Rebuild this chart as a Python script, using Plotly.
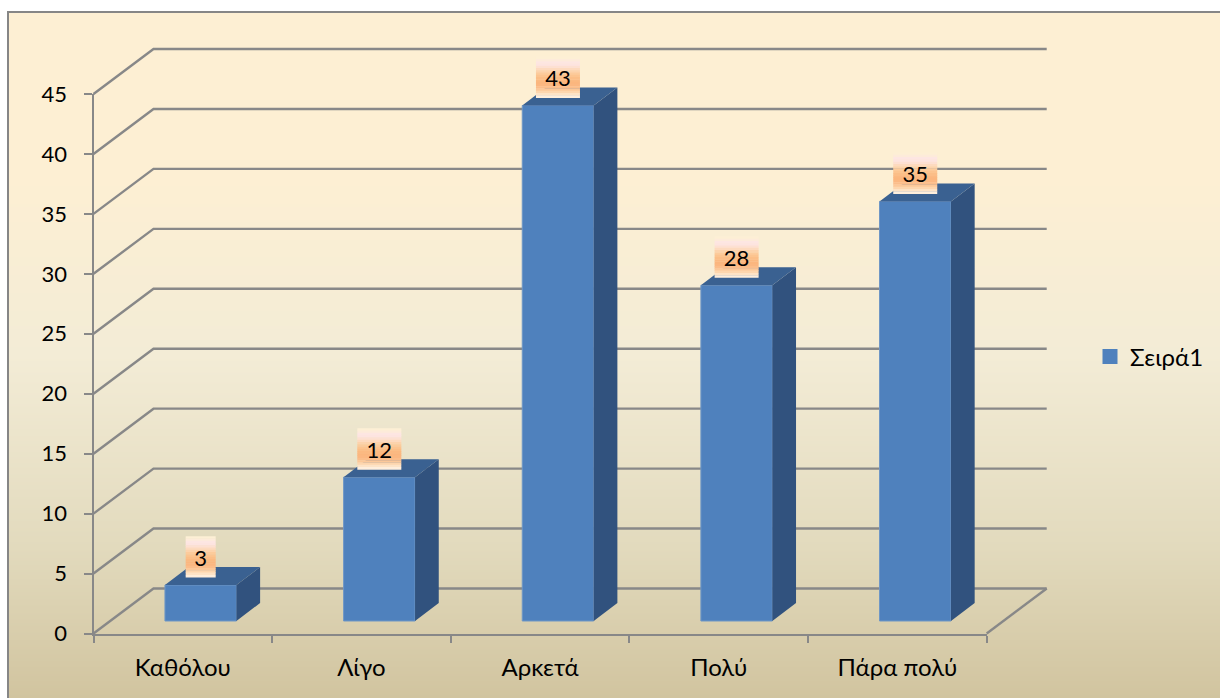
import plotly.graph_objects as go

categories = ["Καθόλου", "Λίγο", "Αρκετά", "Πολύ", "Πάρα πολύ"]
values = [3, 12, 43, 28, 35]
y_ticks = [0, 5, 10, 15, 20, 25, 30, 35, 40, 45]
series_name = "Σειρά1"

W, H = 1220, 698
FONT = "Lato, 'Noto Sans', sans-serif"
FS_NUM, FS_TXT = 22, 24
GRID = "#888888"
FRONT, SIDE, TOP = "#4F81BD", "#31527E", "#3A6191"

# pixel geometry of the pseudo-3D plot
X0, X1 = 93.5, 986.7
Y0, Y45 = 633.5, 94.0
px_x = (X1 - X0) / len(categories)     # pixels per category
px_y = (Y0 - Y45) / 45                 # pixels per value unit
wall_dx, wall_dy = 60 / px_x, 45 / px_y
bar_w, bar_shift, bar_base = 0.40, 0.10, 12.5 / px_y
bar_dx, bar_dy = 23.7 / px_x, 18 / px_y
positions = list(range(len(categories)))
boundaries = [p - 0.5 for p in positions] + [positions[-1] + 0.5]

# full-page axes that share the scale of the visible axes, so nothing gets clipped
full_x = [-0.5 - X0 / px_x, 4.5 + (W - X1) / px_x]
full_y = [-(H - Y0) / px_y, 45 + Y45 / px_y]

fig = go.Figure()

# background gradient (first subplot, always underneath)
bg_scale = [[0, "#FDEFD3"], [0.24, "#FDEFD3"], [0.5, "#F3ECD6"], [0.78, "#E2DABD"], [1, "#D1C49F"]]
rows = list(range(11))
fig.add_trace(go.Heatmap(z=[[r, r] for r in rows], x=[0, 1], y=rows, zsmooth="best", zmin=0, zmax=10,
                         colorscale=bg_scale, showscale=False, hoverinfo="skip", xaxis="x", yaxis="y"))

# legend entry (second subplot: carries the visible axes)
fig.add_trace(go.Scatter(x=[None], y=[None], name=series_name, mode="markers",
                         marker=dict(symbol="square", size=15, color=FRONT),
                         xaxis="x2", yaxis="y2", showlegend=True))

# back wall grid (third subplot, under the bars)
gx, gy = [], []
for t in y_ticks:
    gx += [-0.5, -0.5 + wall_dx, 4.5 + wall_dx, None]
    gy += [t, t + wall_dy, t + wall_dy, None]
gx += [4.5, 4.5 + wall_dx]
gy += [0, wall_dy]
fig.add_trace(go.Scatter(x=gx, y=gy, mode="lines", line=dict(color=GRID, width=2.4),
                         showlegend=False, hoverinfo="skip", xaxis="x3", yaxis="y3"))

# front faces (fourth subplot)
fig.add_trace(go.Bar(x=positions, y=values, base=bar_base, width=bar_w, offset=bar_shift - bar_w / 2,
                     marker=dict(color=FRONT, line=dict(color="#6F97C6", width=1)), showlegend=False,
                     xaxis="x4", yaxis="y4"))

# side and top faces
sx, sy, tx, ty = [], [], [], []
for i, v in zip(positions, values):
    l = i + bar_shift - bar_w / 2
    r = l + bar_w
    top = bar_base + v
    sx += [r, r + bar_dx, r + bar_dx, r, r, None]
    sy += [bar_base, bar_base + bar_dy, top + bar_dy, top, bar_base, None]
    tx += [l, l + bar_dx, r + bar_dx, r, l, None]
    ty += [top, top + bar_dy, top + bar_dy, top, top, None]
for fx, fy, col in ((sx, sy, SIDE), (tx, ty, TOP)):
    fig.add_trace(go.Scatter(x=fx, y=fy, mode="lines", fill="toself", fillcolor=col, line=dict(width=0, color=col),
                             showlegend=False, hoverinfo="skip", xaxis="x4", yaxis="y4"))

# label boxes: horizontal colour bands, positioned from each bar's value
BOX_H, BOX_GAP = 41.0, 7.5
band_colors = ["#FDEFD5", "#FDEBDA", "#FDE6E2", "#FDE4E0", "#FDE0D2", "#FDDABF", "#FCD3AC", "#FCCB9B",
               "#FCC48F", "#FBBE87", "#FBB981", "#FBB67E", "#FBB781", "#FBBD8A", "#FCC899", "#FDD6AE",
               "#FDE3C6", "#FEEEDC"]
n = len(band_colors)
for k, col in enumerate(band_colors):
    bx, by = [], []
    for i, v in zip(positions, values):
        half = (15.0 if v < 10 else 22.0) / px_x
        c = i + bar_shift
        low = bar_base + v + BOX_GAP / px_y
        b0 = low + BOX_H / px_y * (n - k - 1) / n
        b1 = low + BOX_H / px_y * (n - k) / n + 0.03
        bx += [c - half, c + half, c + half, c - half, c - half, None]
        by += [b0, b0, b1, b1, b0, None]
    fig.add_trace(go.Scatter(x=bx, y=by, mode="lines", fill="toself", fillcolor=col, line=dict(width=0, color=col),
                             showlegend=False, hoverinfo="skip", xaxis="x4", yaxis="y4"))

# label text
TEXT_DROP = 3.0
fig.add_trace(go.Scatter(x=[i + bar_shift for i in positions],
                         y=[bar_base + v + (BOX_GAP + BOX_H / 2 - TEXT_DROP) / px_y for v in values],
                         text=[str(v) for v in values], mode="text", textposition="middle center",
                         textfont=dict(family=FONT, size=FS_NUM, color="#000000"),
                         showlegend=False, hoverinfo="skip", xaxis="x4", yaxis="y4"))

fig.update_layout(
    width=W, height=H, autosize=False, margin=dict(l=0, r=0, t=0, b=0, autoexpand=False),
    paper_bgcolor="#FFFFFF", plot_bgcolor="rgba(0,0,0,0)",
    font=dict(family=FONT, size=FS_NUM, color="#000000"),
    xaxis=dict(domain=[8 / W, 1], range=[0, 1], visible=False, fixedrange=True),
    yaxis=dict(domain=[0, 1 - 12 / H], range=[10, 0], visible=False, fixedrange=True),
    xaxis2=dict(domain=[X0 / W, X1 / W], range=[-0.5, 4.5], anchor="y2", tickmode="array", tickvals=positions,
                ticktext=categories, ticks="", showline=True, linecolor=GRID, linewidth=2, showgrid=False,
                zeroline=False, ticklabelstandoff=12, tickfont=dict(family=FONT, size=FS_TXT),
                minor=dict(tickmode="array", tickvals=boundaries, ticks="outside", ticklen=7, tickwidth=2,
                           tickcolor=GRID, showgrid=False)),
    yaxis2=dict(domain=[1 - Y0 / H, 1 - Y45 / H], range=[0, 45], anchor="x2", tickmode="array", tickvals=y_ticks,
                ticks="outside", ticklen=8, tickwidth=2, tickcolor=GRID, showline=True, linecolor=GRID,
                linewidth=2, showgrid=False, zeroline=False, ticklabelstandoff=12,
                tickfont=dict(family=FONT, size=FS_NUM)),
    xaxis3=dict(domain=[0, 1], range=full_x, anchor="y3", visible=False),
    yaxis3=dict(domain=[0, 1], range=full_y, anchor="x3", visible=False),
    xaxis4=dict(domain=[0, 1], range=full_x, anchor="y4", visible=False),
    yaxis4=dict(domain=[0, 1], range=full_y, anchor="x4", visible=False),
    legend=dict(x=1090 / W, y=1 - 357 / H, xanchor="left", yanchor="middle", bgcolor="rgba(0,0,0,0)",
                font=dict(family=FONT, size=FS_TXT)),
    shapes=[dict(type="rect", xref="paper", yref="paper", x0=8 / W, x1=1.01, y0=-0.01, y1=1 - 12 / H,
                 line=dict(color="#868686", width=2), fillcolor="rgba(0,0,0,0)")],
    hovermode=False,
)

fig.write_html("out.html", config={"displayModeBar": False},
               post_script="document.body.style.margin='0';document.documentElement.style.overflow='hidden';")
